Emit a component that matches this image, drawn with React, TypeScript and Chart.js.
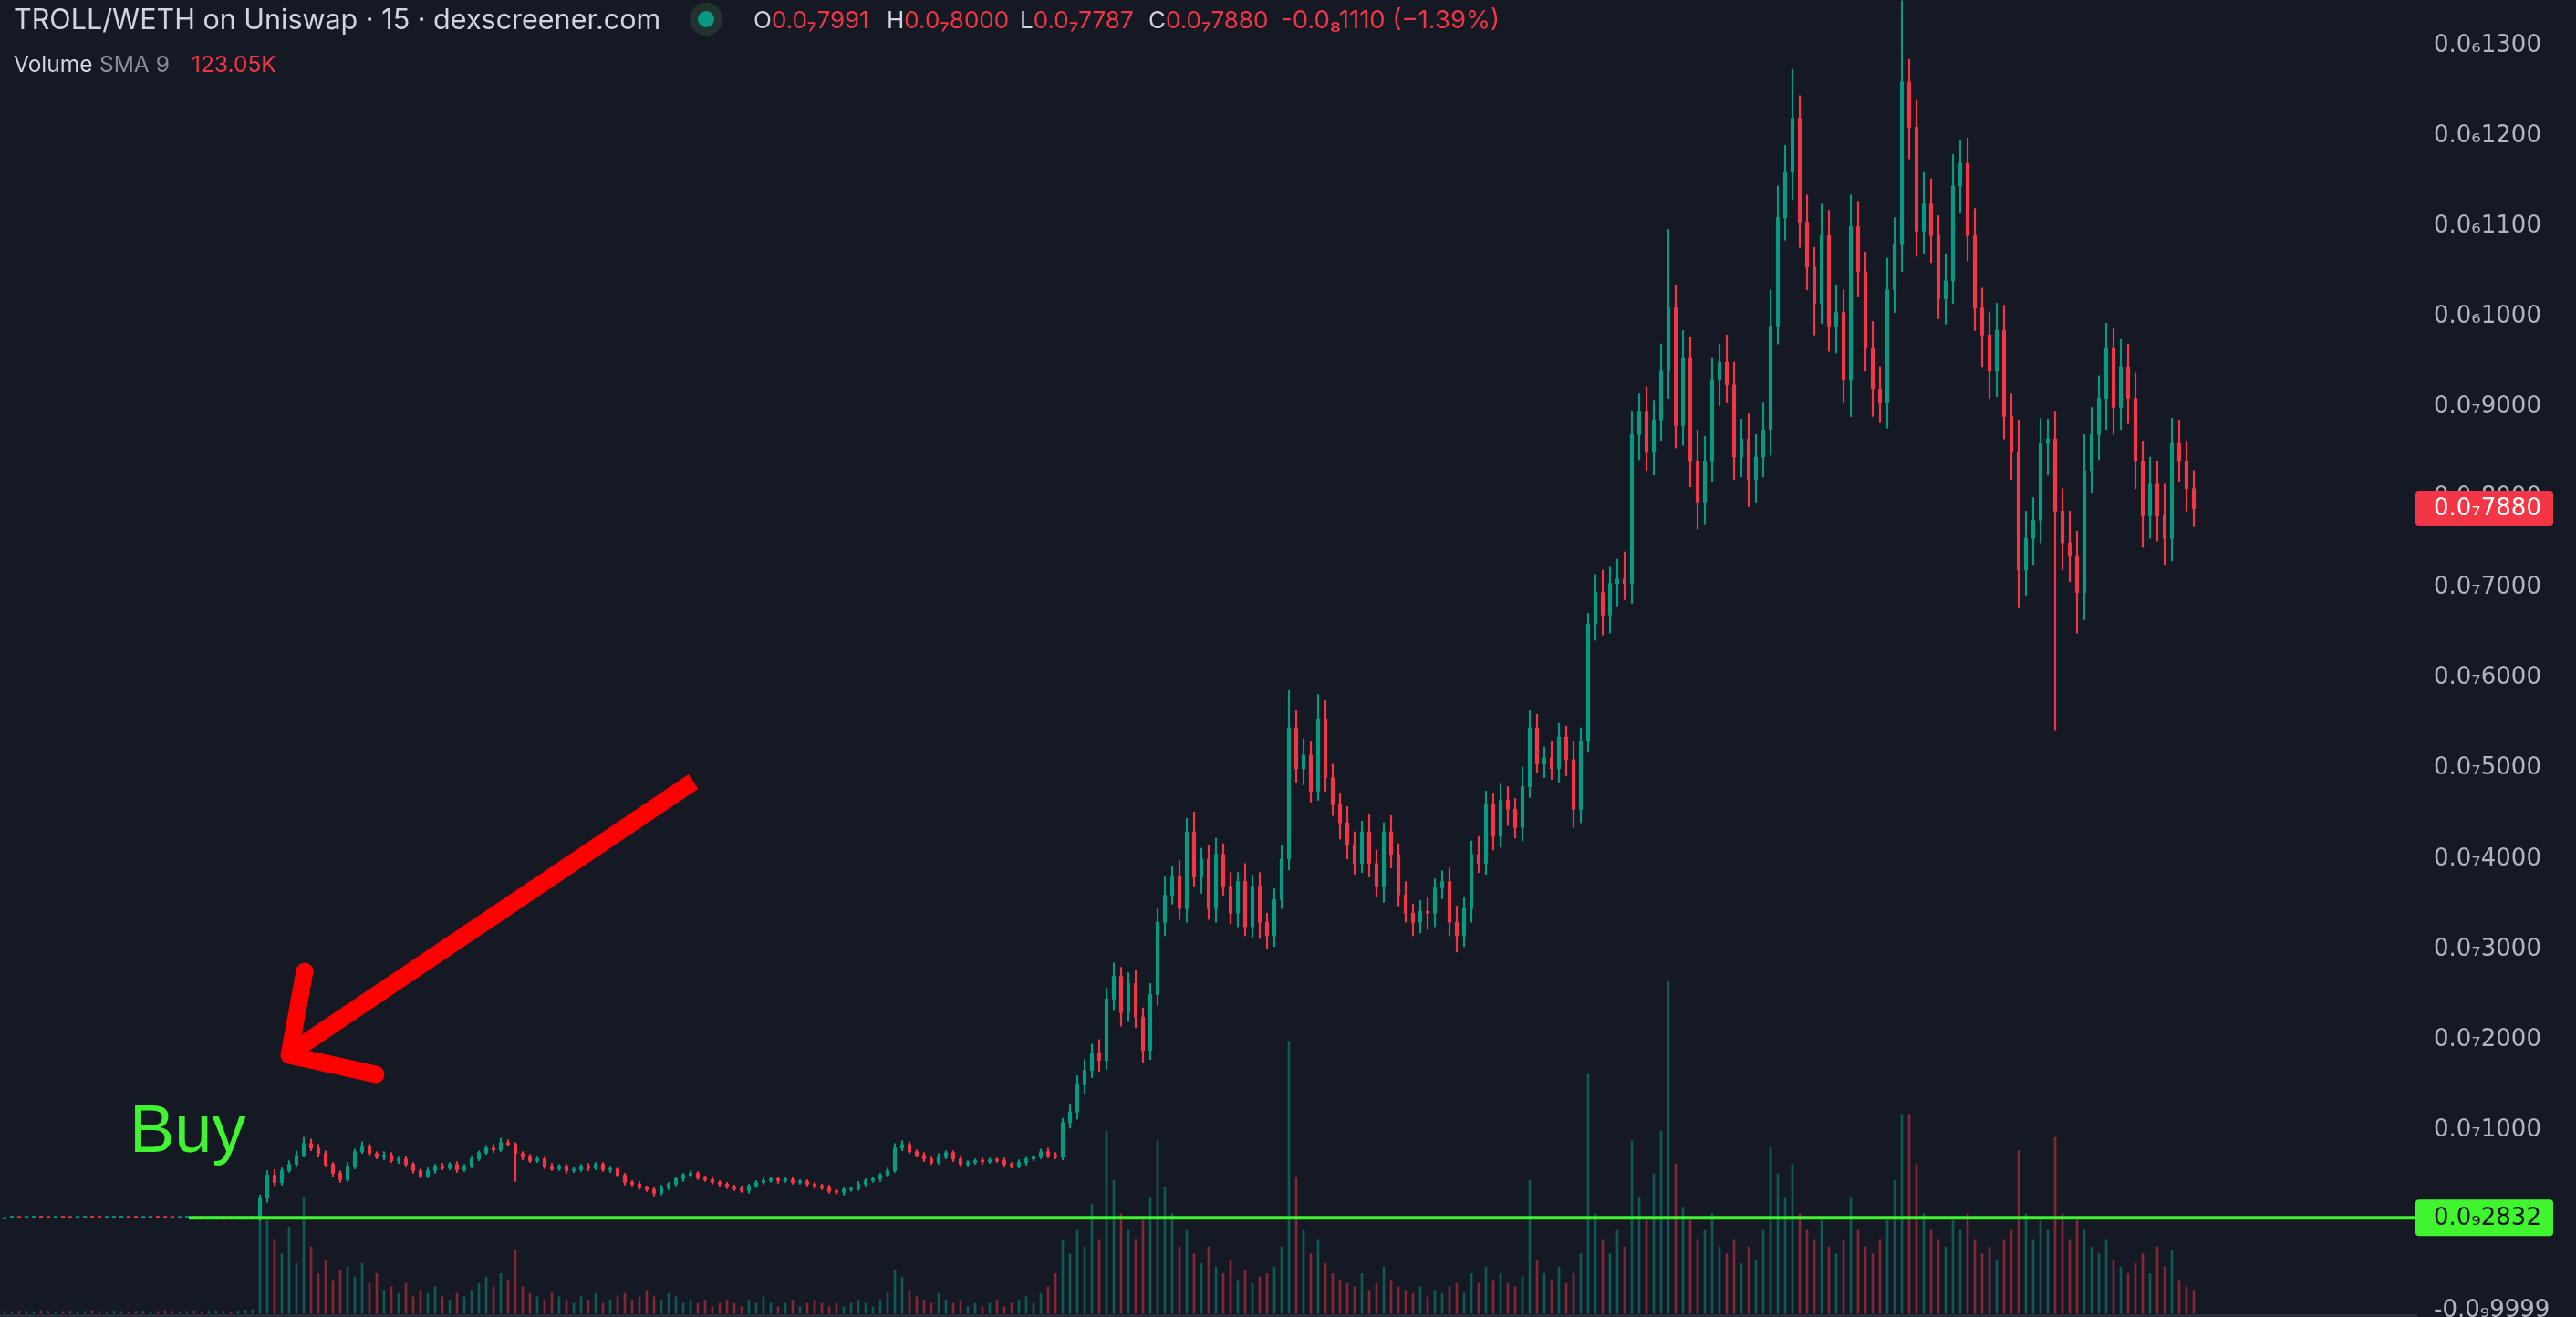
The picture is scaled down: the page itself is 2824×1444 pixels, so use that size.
import React, { useEffect, useRef } from 'react';
import { Chart, registerables } from 'chart.js';

Chart.register(...registerables);

// ---- DATA (prices in units of 1e-8 WETH) ----
const launchCloses = [0.030,0.031,0.029,0.030,0.032,0.030,0.029,0.031,0.030,0.028,0.030,0.031,0.030,0.029,0.030,0.031,0.032,0.030,0.029,0.030,0.031,0.030,0.029,0.028,0.030,0.031,0.030,0.029,0.030,0.031,0.030,0.029,0.030,0.032,0.035];
const earlyCloses = [0.25,0.50,0.42,0.55,0.62,0.72,0.85,0.80,0.74,0.62,0.52,0.45,0.60,0.76,0.82,0.74,0.70,0.72,0.66,0.68,0.62,0.55,0.49,0.55,0.60,0.58,0.62,0.56,0.60,0.68,0.75,0.80,0.78,0.86,0.84,0.74,0.70,0.66,0.68,0.60,0.57,0.60,0.55,0.56,0.60,0.58,0.62,0.56,0.57,0.50,0.42,0.40,0.36,0.34,0.30,0.36,0.40,0.46,0.50,0.52,0.47,0.45,0.42,0.40,0.37,0.35,0.33,0.38,0.42,0.44,0.46,0.44,0.45,0.42,0.43,0.40,0.38,0.36,0.32,0.31,0.34,0.35,0.40,0.44,0.46,0.50,0.55,0.80,0.84,0.76,0.72,0.68,0.64,0.70,0.75,0.68,0.62,0.64,0.66,0.65,0.67,0.66,0.62,0.60,0.64,0.68,0.70,0.76,0.72,0.70,1.08];
const rallyCloses = [1.20,1.50,1.66,1.85,1.77,2.45,2.70,2.30,2.62,2.25,1.88,2.50,3.30,3.60,3.80,3.45,4.30,3.80,4.00,3.45,4.05,3.70,3.40,3.75,3.25,3.70,3.30,3.15,3.55,4.00,5.45,5.00,5.15,4.75,5.55,4.90,4.60,4.40,4.15,3.95,4.30,3.95,3.70,4.30,4.05,3.60,3.40,3.30,3.42,3.40,3.68,3.75,3.30,3.15,3.45,4.05,3.95,4.60,4.25,4.65,4.55,4.35,4.80,5.45,5.05,5.12,5.00,5.35,5.10,4.55,5.30,6.60];
const peakCloses = [6.95,6.70,7.05,7.10,7.05,8.70,8.95,8.50,8.85,9.40,10.10,8.80,9.55,8.40,7.95,8.40,9.30,9.50,9.25,8.45,8.65,8.20,8.45,8.75,9.90,11.10,11.60,12.20,11.05,10.55,10.15,10.90,9.90,10.05,9.30,11.00,10.50,9.65,9.20,9.05,10.30,10.80,12.60,12.10,10.95,11.25,10.90,10.20,10.40,11.45,11.70,10.90,10.10,9.80,9.40,9.85,8.90,8.50,7.20,7.55,7.75,8.60,8.65,7.85,7.50,7.35,6.95,8.30,8.70,9.10,9.65,9.00,9.45,9.10,8.40,7.80,8.15,7.80,7.55,8.60,8.40,8.10,7.88];

const launchWicks = launchCloses.map(() => 0);
const earlyUpper = [0.03,0.05,0.06,0.03,0.04,0.05,0.07,0.05,0.04,0.03,0.02,0.03,0.04,0.03,0.05,0.03,0.02,0.04,0.03,0.02,0.03,0.02,0.02,0.03,0.02,0.03,0.02,0.03,0.02,0.03,0.02,0.03,0.04,0.05,0.03,0.02,0.02,0.03,0.02,0.02,0.03,0.02,0.02,0.03,0.02,0.03,0.02,0.02,0.03,0.02,0.02,0.02,0.03,0.02,0.02,0.03,0.02,0.02,0.02,0.03,0.02,0.02,0.03,0.02,0.02,0.02,0.03,0.02,0.02,0.03,0.02,0.02,0.02,0.03,0.02,0.02,0.02,0.02,0.03,0.02,0.02,0.02,0.03,0.02,0.02,0.02,0.03,0.05,0.04,0.03,0.02,0.03,0.02,0.04,0.02,0.02,0.03,0.02,0.02,0.03,0.02,0.02,0.03,0.02,0.03,0.02,0.02,0.03,0.04,0.03,0.05];
const earlyLower = [0.04,0.05,0.04,0.03,0.02,0.03,0.02,0.03,0.04,0.03,0.04,0.03,0.02,0.03,0.02,0.03,0.02,0.03,0.02,0.03,0.02,0.03,0.02,0.02,0.03,0.02,0.02,0.03,0.02,0.02,0.02,0.02,0.03,0.02,0.02,0.31,0.03,0.02,0.02,0.03,0.02,0.02,0.03,0.02,0.02,0.03,0.02,0.02,0.03,0.02,0.03,0.02,0.02,0.02,0.03,0.02,0.02,0.02,0.03,0.02,0.02,0.02,0.02,0.03,0.02,0.02,0.02,0.03,0.02,0.02,0.02,0.03,0.02,0.02,0.02,0.02,0.03,0.02,0.02,0.02,0.03,0.02,0.02,0.02,0.02,0.03,0.02,0.02,0.03,0.02,0.02,0.03,0.02,0.02,0.02,0.03,0.02,0.02,0.02,0.03,0.02,0.02,0.03,0.02,0.02,0.03,0.02,0.02,0.03,0.02,0.03];
const rallyUpper = [0.08,0.10,0.12,0.10,0.15,0.12,0.15,0.10,0.12,0.15,0.10,0.12,0.15,0.20,0.12,0.18,0.15,0.22,0.12,0.15,0.18,0.12,0.15,0.10,0.20,0.12,0.15,0.10,0.12,0.15,0.42,0.20,0.18,0.15,0.27,0.20,0.15,0.12,0.18,0.15,0.12,0.20,0.15,0.10,0.18,0.12,0.15,0.10,0.12,0.15,0.10,0.12,0.15,0.18,0.12,0.15,0.20,0.15,0.12,0.18,0.15,0.12,0.22,0.20,0.15,0.12,0.18,0.15,0.12,0.20,0.15,0.12];
const rallyLower = [0.06,0.08,0.10,0.08,0.12,0.10,0.12,0.15,0.10,0.12,0.14,0.10,0.12,0.15,0.10,0.12,0.15,0.10,0.18,0.12,0.15,0.10,0.12,0.15,0.10,0.12,0.18,0.15,0.12,0.10,0.12,0.15,0.18,0.12,0.10,0.15,0.12,0.18,0.15,0.12,0.10,0.15,0.12,0.18,0.15,0.12,0.10,0.15,0.12,0.18,0.15,0.12,0.15,0.18,0.12,0.15,0.10,0.12,0.15,0.12,0.18,0.12,0.15,0.12,0.10,0.15,0.12,0.15,0.18,0.20,0.15,0.12];
const peakUpper = [0.20,0.25,0.18,0.22,0.30,0.25,0.20,0.28,0.22,0.30,0.87,0.25,0.30,0.22,0.35,0.28,0.25,0.20,0.30,0.25,0.22,0.28,0.25,0.30,0.40,0.35,0.30,0.54,0.25,0.30,0.22,0.35,0.28,0.30,0.25,0.35,0.28,0.22,0.30,0.25,0.35,0.30,0.90,0.25,0.30,0.35,0.28,0.22,0.30,0.35,0.25,0.28,0.30,0.22,0.25,0.30,0.28,0.25,0.35,0.30,0.25,0.28,0.22,0.30,0.25,0.35,0.28,0.40,0.30,0.25,0.28,0.22,0.30,0.25,0.28,0.22,0.30,0.25,0.35,0.28,0.25,0.22,0.20];
const peakLower = [0.18,0.22,0.20,0.25,0.18,0.22,0.28,0.20,0.25,0.22,0.30,0.25,0.22,0.28,0.30,0.25,0.22,0.28,0.20,0.25,0.22,0.30,0.25,0.22,0.28,0.20,0.25,0.30,0.28,0.25,0.35,0.22,0.28,0.30,0.25,0.40,0.28,0.25,0.30,0.22,0.28,0.25,0.30,0.35,0.28,0.25,0.30,0.22,0.28,0.25,0.30,0.28,0.25,0.35,0.30,0.28,0.25,0.30,0.42,0.28,0.30,0.25,0.35,2.42,0.30,0.28,0.45,0.30,0.25,0.28,0.35,0.30,0.25,0.28,0.30,0.35,0.25,0.28,0.30,0.25,0.22,0.25,0.20];

const launchVolumes = [0.6,0.5,0.7,0.6,0.5,0.8,0.6,0.5,0.6,0.7,0.5,0.6,0.8,0.6,0.5,0.7,0.6,0.5,0.6,0.7,0.5,0.6,0.8,0.6,0.5,0.6,0.7,0.5,0.6,0.8,0.6,0.5,0.7,0.9,1.2];
const earlyVolumes = [30,28,22,18,26,15,35,20,12,16,10,13,14,11,15,9,12,7,8,6,9,5,7,6,8,5,4,6,5,7,9,11,8,12,10,19,8,6,5,4,6,5,4,3,5,4,6,3,4,5,6,4,5,7,5,4,6,5,3,4,3,4,2,3,4,3,2,4,3,5,3,2,3,4,2,3,4,3,2,3,2,3,4,3,2,4,6,13,11,7,5,4,3,6,4,3,4,2,3,2,3,4,2,3,4,5,3,6,8,12,22];
const rallyVolumes = [18,25,20,33,22,55,40,30,25,22,28,35,52,38,30,20,25,18,15,20,14,12,16,10,13,9,11,12,14,20,82,41,25,18,22,15,12,10,9,8,12,7,9,14,10,8,7,6,8,5,7,6,8,9,6,12,9,14,10,12,9,8,11,40,16,12,10,14,9,12,18,72];
const peakVolumes = [30,22,18,25,20,52,35,28,42,55,100,45,32,28,22,25,30,20,18,22,15,20,16,25,50,42,35,45,30,25,22,28,20,18,22,35,25,20,18,22,28,40,60,60,45,30,25,22,20,28,25,30,22,18,20,16,22,25,49,30,22,28,25,53,30,22,28,25,20,18,22,16,14,12,15,18,12,20,14,19,10,8,7];

const yTickValues = [-1, 1, 2, 3, 4, 5, 6, 7, 8, 9, 10, 11, 12, 13];
const yTickLabels = ['-0.0₉9999','0.0₇1000','0.0₇2000','0.0₇3000','0.0₇4000','0.0₇5000','0.0₇6000','0.0₇7000','0.0₇8000','0.0₇9000','0.0₆1000','0.0₆1100','0.0₆1200','0.0₆1300'];

const buyLevel = 0.02832;

const titleText = 'TROLL/WETH on Uniswap · 15 · dexscreener.com';
const ohlcLabels = ['O', 'H', 'L', 'C'];
const ohlcValues = ['0.0₇7991', '0.0₇8000', '0.0₇7787', '0.0₇7880'];
const changeText = '-0.0₈1110 (−1.39%)';
const volumeText = ['Volume', 'SMA 9', '123.05K'];

// ---- derived ----
const closes = [...launchCloses, ...earlyCloses, ...rallyCloses, ...peakCloses];
const upperWicks = [...launchWicks, ...earlyUpper, ...rallyUpper, ...peakUpper];
const lowerWicks = [...launchWicks, ...earlyLower, ...rallyLower, ...peakLower];
const volumes = [...launchVolumes, ...earlyVolumes, ...rallyVolumes, ...peakVolumes];
const opens = closes.map((c, i) => (i === 0 ? c : closes[i - 1]));
const highs = closes.map((c, i) => Math.max(c, opens[i]) + upperWicks[i]);
const lows = closes.map((c, i) => Math.min(c, opens[i]) - lowerWicks[i]);

const UP = '#089981';
const DOWN = '#f23645';
const UP_V = 'rgba(8,153,129,0.5)';
const DOWN_V = 'rgba(242,54,69,0.5)';
const LIME = '#40f530';
const BG = '#151924';

const SUB = '₀₁₂₃₄₅₆₇₈₉';
function fmtSub(u: number): string {
  const real = u * 1e-8;
  const e = Math.floor(Math.log10(real));
  const zeros = -e - 1;
  const mant = Math.round((real / Math.pow(10, e)) * 1000);
  return '0.0' + SUB[zeros] + String(mant);
}

function roundRect(ctx: CanvasRenderingContext2D, x: number, y: number, w: number, h: number, r: number) {
  ctx.beginPath();
  ctx.moveTo(x + r, y);
  ctx.lineTo(x + w - r, y);
  ctx.quadraticCurveTo(x + w, y, x + w, y + r);
  ctx.lineTo(x + w, y + h - r);
  ctx.quadraticCurveTo(x + w, y + h, x + w - r, y + h);
  ctx.lineTo(x + r, y + h);
  ctx.quadraticCurveTo(x, y + h, x, y + h - r);
  ctx.lineTo(x, y + r);
  ctx.quadraticCurveTo(x, y, x + r, y);
  ctx.closePath();
}

const overlayPlugin = {
  id: 'overlay',
  afterDraw(chart: any) {
    const ctx: CanvasRenderingContext2D = chart.ctx;
    const y = chart.scales.y;
    const area = chart.chartArea;
    ctx.save();
    // bottom border band
    ctx.fillStyle = '#2a2e39';
    ctx.fillRect(0, 1441, area.right, 3);

    // buy line
    const by = y.getPixelForValue(buyLevel);
    ctx.strokeStyle = LIME;
    ctx.lineWidth = 4;
    ctx.beginPath();
    ctx.moveTo(207, by);
    ctx.lineTo(2650, by);
    ctx.stroke();

    ctx.font = '26px "DejaVu Sans"';
    ctx.textBaseline = 'middle';
    ctx.textAlign = 'left';
    // buy label
    ctx.fillStyle = LIME;
    roundRect(ctx, 2648, by - 20, 151, 40, 4);
    ctx.fill();
    ctx.fillStyle = '#131722';
    ctx.fillText(fmtSub(buyLevel), 2668, by + 1);

    // last price label
    const last = closes[closes.length - 1];
    const ly = y.getPixelForValue(last);
    ctx.fillStyle = DOWN;
    roundRect(ctx, 2648, ly - 19.5, 151, 39, 4);
    ctx.fill();
    ctx.fillStyle = '#ffffff';
    ctx.fillText(fmtSub(last), 2668, ly + 1);

    // red arrow annotation
    ctx.strokeStyle = '#ff0000';
    ctx.lineWidth = 19;
    ctx.lineCap = 'butt';
    ctx.beginPath();
    ctx.moveTo(760, 857);
    ctx.lineTo(322, 1152);
    ctx.stroke();
    ctx.lineCap = 'round';
    ctx.lineJoin = 'round';
    ctx.beginPath();
    ctx.moveTo(334, 1065);
    ctx.lineTo(317, 1157);
    ctx.lineTo(412, 1178);
    ctx.stroke();
    ctx.restore();
  },
};

export default function App() {
  const ref = useRef<HTMLCanvasElement | null>(null);

  useEffect(() => {
    if (!ref.current) return;
    const idx = closes.map((_, i) => i);
    const colors = idx.map((i) => (closes[i] >= opens[i] ? UP : DOWN));
    const vColors = idx.map((i) => (closes[i] >= opens[i] ? UP_V : DOWN_V));

    const chart = new Chart(ref.current, {
      type: 'bar',
      data: {
        datasets: [
          {
            label: 'Volume',
            data: idx.map((i) => ({ x: i, y: volumes[i] })),
            yAxisID: 'yv',
            backgroundColor: vColors,
            barThickness: 2,
            grouped: false,
            order: 3,
          } as any,
          {
            label: 'Wicks',
            data: idx.map((i) => ({ x: i, y: [lows[i], highs[i]] })),
            yAxisID: 'y',
            backgroundColor: colors,
            barThickness: 1.5,
            grouped: false,
            order: 2,
          } as any,
          {
            label: 'Bodies',
            data: idx.map((i) => ({ x: i, y: [opens[i], closes[i]] })),
            yAxisID: 'y',
            backgroundColor: colors,
            barThickness: 3.5,
            minBarLength: 1.5,
            grouped: false,
            order: 1,
          } as any,
        ],
      },
      options: {
        animation: false,
        responsive: false,
        devicePixelRatio: 1,
        events: [],
        layout: { padding: 0 },
        plugins: { legend: { display: false }, tooltip: { enabled: false } },
        scales: {
          x: {
            type: 'linear',
            min: -0.625,
            max: 330.625,
            display: false,
            offset: false,
          },
          y: {
            type: 'linear',
            position: 'right',
            min: -1.07,
            max: 13.508,
            grid: { display: false, drawTicks: false },
            border: { display: false },
            afterFit: (scale: any) => {
              scale.width = 174;
              scale.paddingTop = 0;
              scale.paddingBottom = 0;
            },
            afterBuildTicks: (scale: any) => {
              scale.ticks = yTickValues.map((v) => ({ value: v }));
            },
            ticks: {
              color: '#b2b5be',
              font: { family: '"DejaVu Sans"', size: 26 },
              padding: 18,
              autoSkip: false,
              callback: (_v: any, index: number) => yTickLabels[index],
            },
          },
          yv: {
            type: 'linear',
            display: false,
            min: -1.1,
            max: 395.6,
          },
        },
      } as any,
      plugins: [overlayPlugin],
    });
    return () => chart.destroy();
  }, []);

  const font = 'Inter, Roboto, "Noto Sans", sans-serif';
  const ohlcX = [826, 972, 1118, 1259];
  const abs = (left: number, top: number, size: number, color: string): React.CSSProperties => ({
    position: 'absolute',
    left,
    top,
    fontSize: size,
    lineHeight: `${size}px`,
    color,
    fontFamily: font,
    whiteSpace: 'nowrap',
  });

  return (
    <div style={{ position: 'fixed', left: 0, top: 0, width: 2824, height: 1444, background: BG, overflow: 'hidden' }}>
      <canvas ref={ref} width={2824} height={1444} style={{ display: 'block', position: 'absolute', left: 0, top: 0 }} />
      <div style={abs(15, 6.1, 30.5, '#d1d4dc')}>{titleText}</div>
      <div style={{ position: 'absolute', left: 756, top: 2.5, width: 36, height: 36, borderRadius: '50%', background: '#22332f' }} />
      <div style={{ position: 'absolute', left: 765, top: 11.5, width: 18, height: 18, borderRadius: '50%', background: UP }} />
      {ohlcLabels.map((l, k) => (
        <div key={l} style={abs(ohlcX[k], 9.2, 26, '#d1d4dc')}>
          {l}
          <span style={{ color: DOWN }}>{ohlcValues[k]}</span>
        </div>
      ))}
      <div style={abs(1404, 8, 27.5, DOWN)}>{changeText}</div>
      <div style={abs(15, 58, 24.5, '#d1d4dc')}>{volumeText[0]}</div>
      <div style={abs(109, 58, 24.5, '#8a8d97')}>{volumeText[1]}</div>
      <div style={abs(210, 58, 24.5, DOWN)}>{volumeText[2]}</div>
      <div style={{ position: 'absolute', left: 142, top: 1201, fontSize: 74, lineHeight: '74px', color: LIME, fontFamily: '"Liberation Sans", Arial, sans-serif', whiteSpace: 'nowrap' }}>
        Buy
      </div>
    </div>
  );
}
